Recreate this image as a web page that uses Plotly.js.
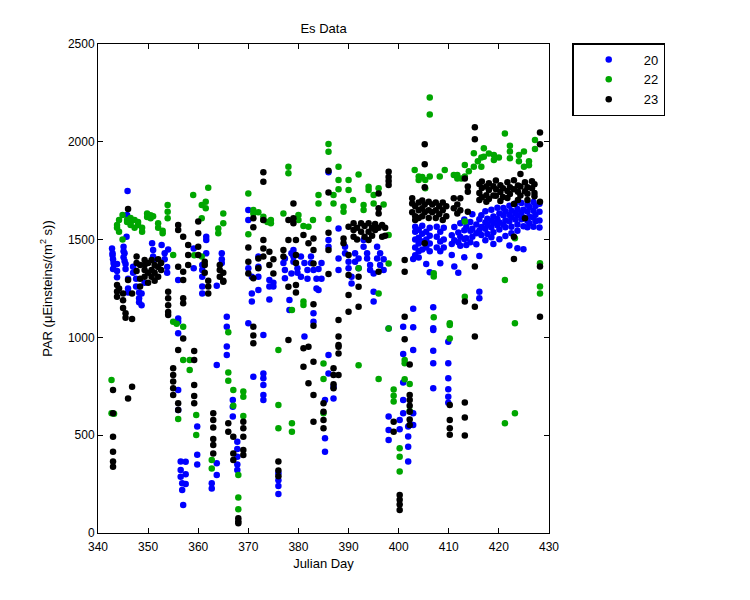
<!DOCTYPE html>
<html><head><meta charset="utf-8">
<script src="https://cdn.plot.ly/plotly-3.0.1.min.js"></script>
<style>body{margin:0;background:#fff}</style>
</head><body><div id="chart" style="width:750px;height:600px"></div>
<script>
const seriesNames = ["20", "22", "23"];
const seriesColors = ["#0000FF", "#00A600", "#000000"];

const day20 = [342.8,342.9,343.0,343.1,343.2,342.9,343.0,343.8,343.8,343.8,345.9,345.8,345.7,345.1,345.1,345.1,345.5,345.5,346.0,346.0,346.0,345.3,345.3,
347.0,347.0,347.6,347.6,348.2,348.2,348.2,348.7,348.7,349.3,350.8,351.0,351.0,351.0,352.7,353.3,353.3,353.8,353.8,354.0,
356.0,356.0,356.0,356.0,356.0,356.0,356.5,356.5,356.5,356.8,356.8,357.0,357.5,357.5,357.5,359.1,359.1,359.8,359.8,359.8,
360.8,360.8,360.8,360.8,360.8,361.6,361.6,361.6,362.7,362.7,363.7,363.7,363.7,363.7,364.7,364.7,364.7,365.7,365.7,365.7,365.7,
366.9,366.9,366.9,367.8,367.8,367.8,367.8,367.8,370.0,370.0,370.0,370.0,370.7,370.7,370.7,371.0,372.0,372.0,372.0,372.0,
373.0,373.0,373.0,373.0,373.0,373.0,374.2,374.2,374.2,375.0,375.0,376.0,376.0,376.0,376.0,377.3,377.3,377.3,377.0,378.2,378.2,378.6,378.6,
379.0,379.0,379.0,379.8,379.8,380.5,380.5,381.2,381.2,381.8,381.8,382.5,382.5,383.0,383.0,383.0,383.6,383.6,384.0,384.0,384.6,384.6,
385.3,385.3,385.3,386.0,386.0,386.0,386.0,386.0,387.0,387.0,388.0,388.0,388.0,389.3,389.3,390.0,390.0,390.6,390.6,391.3,391.3,392.0,392.0,
393.0,393.0,393.7,393.7,394.3,394.3,395.0,395.0,395.0,395.7,395.7,396.3,396.3,397.0,397.0,398.0,398.0,398.0,398.0,
400.2,400.2,400.9,400.9,400.9,400.9,400.9,401.9,401.9,401.9,401.9,402.9,402.9,402.9,402.9,402.9,402.9,
403.3,403.3,403.3,403.3,403.3,404.0,404.0,404.0,404.0,404.0,404.7,404.7,404.7,404.7,405.5,405.5,405.5,405.5,406.2,406.2,406.2,406.2,406.2,
406.9,406.9,406.9,406.9,406.9,406.9,407.6,407.6,407.6,408.3,408.3,408.3,408.3,409.0,409.0,409.0,409.9,409.9,409.9,409.9,409.9,409.9,
410.6,410.6,410.6,411.1,411.1,411.1,411.9,411.9,411.9,412.3,412.3,412.3,413.1,413.1,413.1,413.1,413.5,413.5,413.5,414.3,414.3,414.3,414.7,414.7,414.7,415.5,415.5,415.5,416.1,416.1,416.1,416.1,416.1,
416.5,416.5,416.5,417.3,417.3,417.3,417.3,417.7,417.7,417.7,418.5,418.5,418.5,418.5,418.9,418.9,418.9,418.9,419.7,419.7,419.7,420.1,420.1,420.1,420.1,420.9,420.9,420.9,421.3,421.3,421.3,421.3,
422.1,422.1,422.1,422.1,422.5,422.5,422.5,422.5,423.3,423.3,423.3,423.7,423.7,423.7,423.7,423.7,424.5,424.5,424.5,424.9,424.9,424.9,424.9,425.7,425.7,425.7,425.7,426.1,426.1,426.1,426.9,426.9,426.9,426.9,427.3,427.3,427.3,428.1,428.1,428.1,428.1];
const par20 = [1455,1430,1400,1380,1370,1420,1350,1375,1340,1308,1748,1626,1515,1464,1440,1410,1375,1350,1300,1250,1230,1430,1390,
1361,1330,1300,1260,1230,1200,1180,1225,1165,1280,1481,1447,1413,1396,1472,1430,1400,1360,1330,1450,
1293,1097,1080,1021,731,629,365,322,288,254,220,143,364,300,250,1455,1353,544,400,350,
1370,1345,1310,1260,1225,1515,1498,1430,254,228,1264,859,356,296,1430,1400,1380,1106,1055,953,910,
680,646,595,467,430,390,350,322,1651,1600,1353,1072,1310,1225,1183,799,1413,1361,1310,1242,
1012,816,791,757,706,680,1293,1260,1194,1280,1260,305,270,240,200,1404,1345,1302,1380,1191,1140,1430,1327,
1447,1413,1387,1353,1330,1310,1413,1380,1004,1345,1300,1413,1380,1345,1123,1080,1300,1250,1242,1350,1380,1300,
680,484,416,1844,1498,1464,910,816,748,688,1557,1404,1345,1464,1430,1387,1353,1310,1276,1430,1387,1353,1404,
1498,1464,1430,1404,1370,1345,1327,1234,1183,1404,1464,1430,1370,1400,1345,1046,595,526,475,
578,530,1055,915,770,680,612,544,493,441,365,1147,1052,936,612,552,1401,
1566,1540,1500,1460,1420,1550,1510,1480,1440,1409,1571,1530,1490,1450,1540,1500,1375,1460,1560,1520,1333,1480,1440,
1154,1047,1038,932,868,740,1566,1515,1460,1540,1490,1440,1379,1560,1500,1460,978,868,791,735,697,666,
1522,1478,1421,1565,1497,1362,1536,1487,1331,1583,1514,1468,1548,1503,1410,1603,1566,1507,1473,1590,1545,1486,1630,1556,1515,1577,1533,1476,1604,1546,1416,1234,1200,
1624,1565,1523,1645,1588,1556,1497,1606,1575,1528,1652,1596,1563,1512,1618,1586,1537,1478,1663,1605,1574,1634,1587,1552,1502,1662,1624,1577,1645,1598,1563,1518,
1673,1626,1594,1470,1647,1614,1566,1533,1684,1636,1603,1657,1624,1577,1545,1456,1687,1637,1604,1652,1613,1568,1451,1678,1644,1597,1563,1667,1617,1583,1692,1648,1613,1566,1672,1627,1594,1683,1643,1598,1562];

const day22 = [342.7,342.7,343.2,343.8,343.8,344.2,344.2,344.9,344.9,345.8,345.8,346.5,346.5,346.5,347.3,347.3,348.0,348.0,348.8,348.8,
349.8,349.8,350.5,350.5,351.0,352.0,352.0,352.9,352.9,353.9,353.9,353.9,355.0,355.0,355.7,356.0,357.0,357.0,358.3,358.3,
359.0,359.2,359.6,359.6,360.7,360.7,360.7,361.5,361.5,362.0,362.7,362.7,364.0,364.0,365.0,365.0,366.0,366.0,366.0,367.0,367.0,
368.0,368.0,368.0,369.0,369.0,369.0,370.0,370.0,371.0,371.0,372.0,373.0,373.0,373.8,374.5,374.5,376.0,376.0,376.0,377.0,378.0,378.0,
378.7,378.7,378.7,380.0,380.0,381.0,381.0,381.0,382.0,382.9,384.0,384.0,385.0,385.0,385.0,386.0,386.0,386.0,387.0,387.0,
388.0,388.0,388.0,389.0,389.0,390.0,390.0,390.9,392.0,392.0,392.0,393.0,393.0,394.0,394.0,395.0,395.0,396.0,396.0,396.0,397.0,
398.0,398.0,398.0,399.0,399.0,399.0,400.2,400.2,400.2,401.2,401.2,401.2,402.2,402.2,
403.2,404.0,404.0,404.7,405.3,405.3,406.2,406.2,406.2,407.0,407.0,407.0,408.2,409.2,410.2,410.2,410.2,
411.0,411.7,411.7,412.5,413.2,413.2,413.2,413.2,414.0,415.0,415.0,415.8,416.5,416.5,417.0,417.0,418.0,419.0,419.0,420.0,
421.2,421.2,421.2,422.2,422.2,422.2,423.2,423.2,423.2,424.0,424.0,425.0,425.0,426.0,426.0,427.2,427.2,428.2,428.2,428.2];
const par22 = [782,612,610,1575,1560,1600,1540,1626,1500,1600,1590,1585,1575,1610,1600,1560,1590,1575,1560,1540,
1634,1615,1609,1625,1620,1583,1560,1532,1545,1677,1643,1609,1421,1080,1070,583,1055,884,884,833,
1728,1420,603,501,1677,1609,1413,1694,1660,1765,373,330,1557,1532,1634,1583,1026,821,779,731,651,
296,182,121,723,697,598,1736,1527,1651,1634,1640,1617,1600,1590,1583,1600,935,654,535,1634,1873,1839,
1140,561,518,1626,1600,1570,1183,1166,1566,1600,1728,1685,867,787,612,1989,1949,1605,1728,1685,
1873,1805,1757,1668,1643,1805,1753,1702,1833,1353,857,1677,1651,1770,1753,1728,1685,1762,1225,787,1680,
1523,1378,1046,734,702,672,433,390,314,885,868,786,762,624,
1856,1822,1805,1820,1805,1762,2227,2140,1822,1328,1311,1103,1822,1856,1072,1063,995,
1830,1813,1830,1813,1881,1822,1592,1208,1850,1941,1873,1900,1920,1873,1967,1924,1940,1933,1907,1920,
2043,1294,561,1980,1950,1916,1507,1072,612,1933,1900,1873,1950,1900,1880,2009,1963,1379,1260,1225];

const day23 = [343.0,343.0,343.0,343.0,343.0,343.0,343.8,343.8,343.8,344.2,345.0,345.0,345.0,345.5,345.5,346.0,346.0,346.0,346.8,346.8,346.8,
347.7,347.7,347.7,348.4,348.4,348.4,349.3,349.3,349.3,349.3,350.0,350.0,350.0,350.7,350.7,350.7,351.3,351.3,351.3,352.0,352.0,352.0,352.6,352.6,
354.0,354.0,354.0,354.0,354.0,355.0,355.0,355.0,355.0,355.0,356.0,356.0,356.0,356.0,356.0,356.0,357.0,357.0,357.0,357.0,357.0,357.0,358.0,358.0,358.0,
359.2,359.2,359.2,359.2,359.2,360.0,360.0,360.0,360.0,361.3,361.3,361.3,362.0,362.0,362.0,363.0,363.0,363.0,363.0,363.0,363.0,
364.3,364.3,364.3,365.0,365.0,365.0,366.0,366.0,367.0,367.0,367.0,368.0,368.0,368.0,369.0,369.0,369.0,369.0,369.0,370.0,370.0,370.0,
371.0,371.0,371.0,371.0,371.0,371.0,372.0,372.0,373.0,373.0,373.0,373.0,373.0,373.0,374.2,374.2,375.0,375.0,376.0,376.0,376.0,377.0,377.0,
378.0,378.0,378.0,378.0,379.0,379.0,379.0,379.5,379.5,379.5,379.5,379.5,381.0,381.0,381.0,382.0,382.0,382.0,
383.0,383.0,383.0,383.0,383.0,383.0,383.0,383.0,385.0,385.0,385.0,385.0,386.0,386.0,386.0,386.0,386.0,387.0,387.0,387.0,387.0,
388.0,388.0,388.0,388.0,388.0,388.0,389.0,389.0,390.0,390.0,390.0,390.0,390.0,391.0,391.0,391.0,391.7,391.7,392.0,392.0,392.0,
392.5,392.5,393.2,393.2,394.0,394.0,394.0,394.7,394.7,395.3,395.3,396.0,396.0,396.0,396.0,396.0,396.7,396.7,397.3,397.3,
398.0,398.0,398.0,398.0,399.0,399.0,400.2,400.2,400.2,400.2,401.2,401.2,401.2,401.2,402.2,402.2,402.2,402.2,402.2,402.2,402.2,
402.7,402.7,402.7,403.3,403.3,403.3,404.0,404.0,404.0,404.7,404.7,404.7,405.2,405.2,405.2,405.2,405.2,405.2,406.0,406.0,406.0,406.7,406.7,
407.4,407.4,407.4,408.1,408.1,408.8,408.8,408.8,409.5,409.5,410.2,410.2,410.2,410.2,411.0,411.0,411.7,411.7,412.3,412.3,
413.2,413.2,413.2,413.2,413.2,413.8,413.8,413.8,415.2,415.2,415.2,415.2,415.2,416.1,416.1,416.1,416.6,416.6,416.6,417.5,417.5,417.5,
418.0,418.0,418.0,418.9,418.9,419.4,419.4,419.4,420.3,420.3,420.3,420.8,420.8,421.7,421.7,421.7,422.2,422.2,
423.0,423.0,423.0,423.0,423.0,423.8,423.8,423.8,424.3,424.3,424.3,425.2,425.2,425.2,425.7,425.7,425.7,426.6,426.6,427.1,427.1,427.1,
428.2,428.2,428.2,428.2,428.2];
const par23 = [731,612,492,416,365,339,1268,1235,1208,1250,1225,1190,1150,1124,1100,1656,1293,688,1225,1094,748,
1413,1380,1340,1300,1260,1370,1396,1370,1345,1310,1280,1330,1380,1396,1345,1310,1370,1330,1290,1400,1360,1310,1380,1345,
1234,1200,1165,1130,1115,842,808,774,740,706,1575,1549,1361,935,663,629,1515,1336,1293,1200,1174,995,1472,1421,1370,
930,884,757,700,663,1592,1532,1464,1421,1387,1370,1330,1290,1260,1225,612,578,540,480,450,407,
1370,1345,1310,1290,1285,1330,561,518,492,407,373,75,50,60,569,535,492,424,399,1460,1387,1327,
1609,1563,1302,1055,1010,970,1404,1353,1844,1796,1600,1498,1455,1413,1438,1370,1400,1327,365,320,290,1447,1413,
1600,1498,1259,987,1685,1609,1583,1498,1421,1380,1268,1230,1523,944,850,1481,952,765,
1506,1447,1378,1169,1060,876,705,569,663,620,578,535,1852,1741,1535,1447,1324,842,808,760,740,
1089,1004,961,952,918,808,1506,1481,1566,1421,1319,1217,1131,1583,1549,1515,1560,1500,1310,1259,1157,
1583,1540,1570,1515,1583,1498,1540,1560,1520,1580,1549,1736,1660,1634,1336,1560,1575,1515,1560,1520,
1847,1779,1820,1800,569,518,194,146,118,170,1396,1336,1106,990,862,706,680,650,620,580,552,
1711,1685,1640,1670,1620,1600,1690,1650,1610,1700,1660,1620,1987,1885,1767,1481,1680,1640,1694,1650,1610,1680,1640,
1690,1650,1610,1670,1630,1690,1650,1600,1670,1620,655,578,535,502,1711,1660,1680,1634,1711,1650,
1813,1183,667,590,498,1771,1745,1643,2074,2013,1362,1157,1004,1784,1738,1703,1797,1764,1716,1772,1727,1693,
1788,1754,1707,1773,1726,1802,1757,1724,1778,1743,1697,1763,1718,1793,1748,1713,1768,1733,
1803,1757,1682,1515,1401,1777,1744,1703,1836,1772,1726,1793,1747,1609,1768,1734,1702,1798,1763,1783,1738,1722,
2048,1987,1694,1362,1106];

const xTicks = [340,350,360,370,380,390,400,410,420,430];
const yTicks = [0,500,1000,1500,2000,2500];

const days = [day20, day22, day23];
const pars = [par20, par22, par23];
const traces = seriesNames.map((n, i) => ({
  type: 'scatter', mode: 'markers', name: n,
  x: days[i], y: pars[i],
  marker: {color: seriesColors[i], size: 6.5, line: {width: 0}}
}));

const font = {family: 'Liberation Sans, Arial, sans-serif', size: 12, color: '#000'};
const axisCommon = {
  showgrid: false, zeroline: false, showline: true, linecolor: '#000', linewidth: 1,
  mirror: 'ticks', ticks: 'inside', ticklen: 5, tickcolor: '#000', tickwidth: 1,
  tickfont: font
};
const layout = {
  width: 750, height: 600,
  margin: {l: 98, r: 201, t: 44, b: 67},
  paper_bgcolor: '#fff', plot_bgcolor: '#fff',
  font: font,
  title: {text: 'Es Data', font: {family: font.family, size: 13, color: '#000'}, x: 0.5, xref: 'paper', y: 0.952, yref: 'container', yanchor: 'middle'},
  xaxis: Object.assign({}, axisCommon, {range: [340, 430], tickvals: xTicks, ticklabelstandoff: 3,
    title: {text: 'Julian Day', font: {family: font.family, size: 13, color: '#000'}, standoff: 5}}),
  yaxis: Object.assign({}, axisCommon, {range: [0, 2500], tickvals: yTicks,
    title: {text: 'PAR (\u03bcEinsteins/(m<sup>2</sup> s))', font: {family: font.family, size: 13, color: '#000'}, standoff: 12}}),
  showlegend: true,
  legend: {x: 1.0515, y: 1.002, xanchor: 'left', yanchor: 'top', bordercolor: '#000', borderwidth: 1.5,
    bgcolor: '#fff', font: {family: font.family, size: 13, color: '#000'}, tracegroupgap: 0, itemwidth: 60}
};
Plotly.newPlot('chart', traces, layout, {displayModeBar: false, staticPlot: true});
</script></body></html>
